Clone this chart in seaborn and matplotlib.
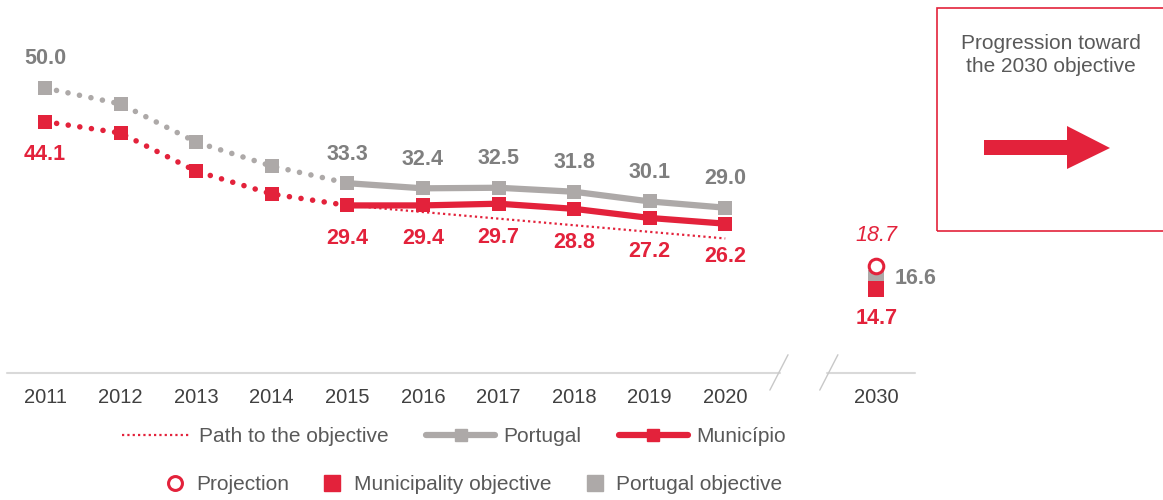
import numpy as np
import pandas as pd
import matplotlib.pyplot as plt
import seaborn as sns
from matplotlib.lines import Line2D
from matplotlib.patches import Rectangle, Polygon

sns.set_theme(style="white")
plt.rcParams["font.family"] = ["Liberation Sans", "DejaVu Sans"]

# data
years = ["2011", "2012", "2013", "2014", "2015", "2016", "2017", "2018", "2019", "2020"]
portugal = [50.0, 47.2, 40.5, 36.3, 33.3, 32.4, 32.5, 31.8, 30.1, 29.0]
municipio = [44.1, 42.1, 35.4, 31.4, 29.4, 29.4, 29.7, 28.8, 27.2, 26.2]
path_years = ["2015", "2020"]
path_vals = [29.4, 23.6]
target_year = "2030"
projection_2030 = 18.7
portugal_obj_2030 = 16.6
municipio_obj_2030 = 14.7
# label only from 2015 onwards (plus first year)
labelled = ["2011", "2015", "2016", "2017", "2018", "2019", "2020"]

RED = "#E3223B"
GREY = "#ADA9A8"
GREY_TXT = "#7F7F7F"
TICK_TXT = "#404040"
LEG_TXT = "#595959"

pos = {y: i for i, y in enumerate(years)}
pos[target_year] = 11

df = pd.DataFrame({"year": years, "Portugal": portugal, "Município": municipio})
df["x"] = df["year"].map(pos)
hist = df[df["x"] <= pos["2015"]]
recent = df[df["x"] >= pos["2015"]]

fig = plt.figure(figsize=(11.63, 5.0), dpi=100)
ax = fig.add_axes([7 / 1163, 1 - 373 / 500, 908 / 1163, 342 / 500])
ax.set_xlim(-0.503, 11.51)
ax.set_ylim(0, 60)

dot = (0, (0.01, 2.1))
for col, color in [("Portugal", GREY), ("Município", RED)]:
    ax.plot(hist["x"], hist[col], color=color, lw=4, ls=dot,
            dash_capstyle="round", zorder=2)
    sns.lineplot(data=recent, x="x", y=col, color=color, lw=4.5, ax=ax,
                 zorder=3, legend=False)
    sns.scatterplot(data=df, x="x", y=col, color=color, marker="s", s=110,
                    linewidth=0, ax=ax, zorder=4, legend=False)

# path to the objective
ax.plot([pos[y] for y in path_years], path_vals, color=RED, lw=1.6,
        ls=(0, (1, 1.4)), zorder=2.5)

# 2030 objectives
x30 = pos[target_year]
ax.scatter([x30], [portugal_obj_2030], marker="s", s=130, color=GREY,
           linewidth=0, zorder=4)
ax.scatter([x30], [municipio_obj_2030], marker="s", s=130, color=RED,
           linewidth=0, zorder=5)
ax.scatter([x30], [projection_2030], marker="o", s=110, facecolor="white",
           edgecolor=RED, linewidth=2.2, zorder=6)

# value labels
for _, r in df.iterrows():
    if r["year"] not in labelled:
        continue
    ax.annotate(f"{r['Portugal']:.1f}", (r["x"], r["Portugal"]), xytext=(0, 21),
                textcoords="offset points", ha="center", va="center",
                fontsize=15.5, fontweight="bold", color=GREY_TXT)
    ax.annotate(f"{r['Município']:.1f}", (r["x"], r["Município"]), xytext=(0, -24),
                textcoords="offset points", ha="center", va="center",
                fontsize=15.5, fontweight="bold", color=RED)

ax.annotate(f"{projection_2030:.1f}", (x30, projection_2030), xytext=(0, 22),
            textcoords="offset points", ha="center", va="center",
            fontsize=15.5, fontstyle="italic", color=RED)
ax.annotate(f"{portugal_obj_2030:.1f}", (x30, portugal_obj_2030), xytext=(13, 0),
            textcoords="offset points", ha="left", va="center",
            fontsize=15.5, fontweight="bold", color=GREY_TXT)
ax.annotate(f"{municipio_obj_2030:.1f}", (x30, municipio_obj_2030), xytext=(0, -21),
            textcoords="offset points", ha="center", va="center",
            fontsize=15.5, fontweight="bold", color=RED)

# axis with break
ax.set_xticks([pos[y] for y in years + [target_year]], years + [target_year])
ax.tick_params(axis="x", length=0, pad=11, labelsize=14.5, labelcolor=TICK_TXT)
ax.set_yticks([])
ax.set_xlabel("")
ax.set_ylabel("")
for s in ax.spines.values():
    s.set_visible(False)
base = "#D9D9D9"
ax.plot([-0.503, 9.72], [0, 0], color=base, lw=1.5, clip_on=False)
ax.plot([10.35, 11.51], [0, 0], color=base, lw=1.5, clip_on=False)
ax.plot([9.59, 9.83], [-3.0, 3.2], color="#C8C8C8", lw=1.0, clip_on=False)
ax.plot([10.25, 10.49], [-3.0, 3.2], color="#C8C8C8", lw=1.0, clip_on=False)

# side box
W, H = 1163, 500
def fp(px, py):
    return (px / W, 1 - py / H)

fig.patches.append(Rectangle(fp(937, 231), 0.25, 223 / H, transform=fig.transFigure,
                             fill=False, edgecolor=RED, lw=1.2))
fig.text(1051 / W, 1 - 55 / H, "Progression toward\nthe 2030 objective",
         ha="center", va="center", fontsize=15, color=LEG_TXT, linespacing=1.25)
arrow_px = [(984, 140), (1067, 140), (1067, 126), (1110, 148),
            (1067, 169), (1067, 155), (984, 155)]
fig.patches.append(Polygon([fp(*p) for p in arrow_px], closed=True,
                           transform=fig.transFigure, color=RED, lw=0))

# legends
h1 = [Line2D([], [], color=RED, lw=1.6, ls=(0, (1, 1.4))),
      Line2D([], [], color=GREY, lw=4.5, marker="s", markersize=9),
      Line2D([], [], color=RED, lw=4.5, marker="s", markersize=9)]
fig.legend(h1, ["Path to the objective", "Portugal", "Município"], ncol=3,
           loc="center", bbox_to_anchor=(454 / W, 1 - 437 / H), frameon=False,
           fontsize=15, handlelength=3.3, handletextpad=0.4,
           columnspacing=1.8, labelcolor=LEG_TXT)
h2 = [Line2D([], [], ls="", marker="o", markersize=10, markerfacecolor="white",
             markeredgecolor=RED, markeredgewidth=2.2),
      Line2D([], [], ls="", marker="s", markersize=11, color=RED),
      Line2D([], [], ls="", marker="s", markersize=11, color=GREY)]
fig.legend(h2, ["Projection", "Municipality objective", "Portugal objective"], ncol=3,
           loc="center", bbox_to_anchor=(474 / W, 1 - 485 / H), frameon=False,
           fontsize=15, handlelength=0.9, handletextpad=0.6,
           columnspacing=1.6, labelcolor=LEG_TXT)

fig.savefig("out.png", dpi=100)
